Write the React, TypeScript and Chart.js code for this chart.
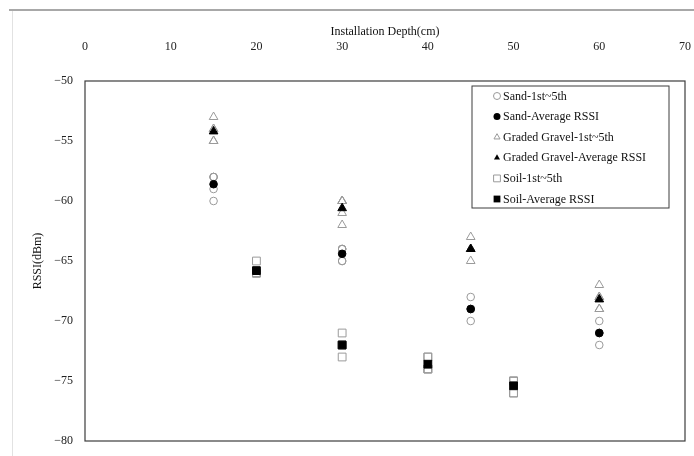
import React, { useEffect, useRef } from 'react';
import { Chart, registerables } from 'chart.js';

Chart.register(...registerables);

// ---- Data ----
const sandDepths = [15, 30, 45, 60];
const sandTrials = [
  [-58, -58, -58, -59, -60],
  [-64, -64, -64, -65, -65],
  [-68, -69, -69, -69, -70],
  [-70, -71, -71, -71, -72],
];
const sandAverage = [-58.6, -64.4, -69.0, -71.0];

const gravelDepths = [15, 30, 45, 60];
const gravelTrials = [
  [-53, -54, -54, -55, -55],
  [-60, -60, -60, -61, -62],
  [-63, -64, -64, -64, -65],
  [-67, -68, -68, -69, -69],
];
const gravelAverage = [-54.2, -60.6, -64.0, -68.2];

const soilDepths = [20, 30, 40, 50];
const soilTrials = [
  [-65, -66, -66, -66, -66],
  [-71, -72, -72, -72, -73],
  [-73, -73, -74, -74, -74],
  [-75, -75, -75, -76, -76],
];
const soilAverage = [-65.8, -72.0, -73.6, -75.4];

const seriesLabels = [
  'Sand-1st~5th',
  'Sand-Average RSSI',
  'Graded Gravel-1st~5th',
  'Graded Gravel-Average RSSI',
  'Soil-1st~5th',
  'Soil-Average RSSI',
];

const xAxisTitle = 'Installation Depth(cm)';
const yAxisTitle = 'RSSI(dBm)';
const xMin = 0;
const xMax = 70;
const xStep = 10;
const yMin = -80;
const yMax = -50;
const yStep = 5;

// ---- helpers ----
const FONT = '"Liberation Serif", "Times New Roman", serif';
const OPEN_COLOR = '#9a9a9a';

const trialPoints = (depths: number[], trials: number[][]) =>
  depths.flatMap((d, i) => trials[i].map((v) => ({ x: d, y: v })));
const avgPoints = (depths: number[], avg: number[]) =>
  depths.map((d, i) => ({ x: d, y: avg[i] }));

const markerSpecs = [
  { style: 'circle', filled: false },
  { style: 'circle', filled: true },
  { style: 'triangle', filled: false },
  { style: 'triangle', filled: true },
  { style: 'rect', filled: false },
  { style: 'rect', filled: true },
];

function drawMarker(ctx: CanvasRenderingContext2D, style: string, filled: boolean, x: number, y: number, r: number) {
  ctx.beginPath();
  if (style === 'circle') {
    ctx.arc(x, y, r, 0, Math.PI * 2);
  } else if (style === 'triangle') {
    ctx.moveTo(x, y - r);
    ctx.lineTo(x + r * 0.866, y + r * 0.5);
    ctx.lineTo(x - r * 0.866, y + r * 0.5);
    ctx.closePath();
  } else {
    const s = r * 0.85;
    ctx.rect(x - s, y - s, 2 * s, 2 * s);
  }
  if (filled) {
    ctx.fillStyle = '#000';
    ctx.fill();
  } else {
    ctx.strokeStyle = OPEN_COLOR;
    ctx.lineWidth = 1;
    ctx.stroke();
  }
}

const boxPlugin = {
  id: 'plotBox',
  afterDraw(chart: any) {
    const { ctx, chartArea: a } = chart;
    ctx.save();
    ctx.strokeStyle = '#3c3c3c';
    ctx.lineWidth = 1.2;
    ctx.strokeRect(a.left, a.top, a.right - a.left, a.bottom - a.top);
    ctx.restore();
  },
};

const legendPlugin = {
  id: 'boxLegend',
  afterDraw(chart: any) {
    const { ctx, chartArea: a } = chart;
    const left = a.right - 213;
    const right = a.right - 16;
    const top = a.top + 5;
    const bottom = a.top + 127;
    ctx.save();
    ctx.fillStyle = '#fff';
    ctx.fillRect(left, top, right - left, bottom - top);
    ctx.strokeStyle = '#3c3c3c';
    ctx.lineWidth = 1;
    ctx.strokeRect(left, top, right - left, bottom - top);
    ctx.font = `12px ${FONT}`;
    ctx.textBaseline = 'middle';
    ctx.textAlign = 'left';
    chart.data.datasets.forEach((ds: any, i: number) => {
      const y = top + 10 + i * 20.6;
      const spec = markerSpecs[i];
      drawMarker(ctx, spec.style, spec.filled, left + 25, y, spec.style === 'rect' ? 4 : 3.5);
      ctx.fillStyle = '#111';
      ctx.fillText(ds.label, left + 31, y + 0.5);
    });
    ctx.restore();
  },
};

export default function App() {
  const canvasRef = useRef<HTMLCanvasElement | null>(null);

  useEffect(() => {
    const canvas = canvasRef.current;
    if (!canvas) return;

    const open = (style: string, radius: number) => ({
      pointStyle: style,
      pointRadius: radius,
      pointBorderWidth: 1,
      pointBorderColor: OPEN_COLOR,
      pointBackgroundColor: 'rgba(0,0,0,0)',
      borderColor: OPEN_COLOR,
      backgroundColor: 'rgba(0,0,0,0)',
      showLine: false,
      order: 2,
    });
    const filled = (style: string, radius: number) => ({
      pointStyle: style,
      pointRadius: radius,
      pointBorderWidth: 1,
      pointBorderColor: '#000',
      pointBackgroundColor: '#000',
      borderColor: '#000',
      backgroundColor: '#000',
      showLine: false,
      order: 1,
    });

    const chart = new Chart(canvas, {
      type: 'scatter',
      data: {
        datasets: [
          { label: seriesLabels[0], data: trialPoints(sandDepths, sandTrials), ...open('circle', 3.8) },
          { label: seriesLabels[1], data: avgPoints(sandDepths, sandAverage), ...filled('circle', 3.8) },
          { label: seriesLabels[2], data: trialPoints(gravelDepths, gravelTrials), ...open('triangle', 5) },
          { label: seriesLabels[3], data: avgPoints(gravelDepths, gravelAverage), ...filled('triangle', 5) },
          { label: seriesLabels[4], data: trialPoints(soilDepths, soilTrials), ...open('rect', 5.5) },
          { label: seriesLabels[5], data: avgPoints(soilDepths, soilAverage), ...filled('rect', 5.5) },
        ] as any,
      },
      options: {
        animation: false,
        responsive: false,
        layout: { padding: { top: 0, left: 0, right: 9, bottom: 15 } },
        plugins: {
          legend: { display: false },
          tooltip: { enabled: false },
        },
        scales: {
          x: {
            type: 'linear',
            position: 'top',
            min: xMin,
            max: xMax,
            grid: { display: false, drawTicks: true, tickLength: 27 },
            border: { display: false },
            ticks: {
              stepSize: xStep,
              padding: 0,
              color: '#222',
              font: { family: FONT, size: 12 },
            },
            title: {
              display: true,
              text: xAxisTitle,
              color: '#111',
              font: { family: FONT, size: 12 },
              padding: { top: 25, bottom: 0 },
            },
            afterFit(scale: any) {
              scale.height = 81;
            },
          },
          y: {
            type: 'linear',
            min: yMin,
            max: yMax,
            grid: { display: false, drawTicks: true, tickLength: 12 },
            border: { display: false },
            ticks: {
              stepSize: yStep,
              padding: 0,
              color: '#222',
              font: { family: FONT, size: 12 },
              callback: (v: any) => String(v).replace('-', '\u2212'),
            },
            title: {
              display: true,
              text: yAxisTitle,
              color: '#111',
              font: { family: FONT, size: 12 },
              padding: { top: 31, bottom: 0 },
            },
            afterFit(scale: any) {
              scale.width = 85;
            },
          },
        },
      } as any,
      plugins: [boxPlugin, legendPlugin],
    });

    return () => chart.destroy();
  }, []);

  return (
    <div style={{ position: 'fixed', left: 0, top: 0, width: 694, height: 456, background: '#fff' }}>
      <canvas ref={canvasRef} width={694} height={456} style={{ position: 'absolute', left: 0, top: 0 }} />
      <div style={{ position: 'absolute', left: 9, top: 9, width: 685, height: 2, background: '#a8a8a8', pointerEvents: 'none' }} />
      <div style={{ position: 'absolute', left: 12, top: 11, width: 1, height: 445, background: '#e2e2e2', pointerEvents: 'none' }} />
    </div>
  );
}
